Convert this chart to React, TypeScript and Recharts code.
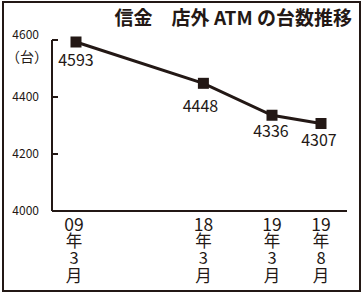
import React from 'react';
import { LineChart, Line, XAxis, YAxis, LabelList } from 'recharts';

const categories = ['09年3月', '18年3月', '19年3月', '19年8月'];
const atmCounts = [4593, 4448, 4336, 4307];
// hand-laid slot spacing of the original (not proportional to time)
const xSlots = [0, 13, 20, 25];
const yTicks = [4000, 4200, 4400, 4600];

const title = '信金　店外 ATM の台数推移';
const unitLabel = '（台）';

const INK = '#231815';
const FONT = '"Noto Sans CJK JP", "Noto Sans", sans-serif';

const data = categories.map((c, i) => ({ label: c, x: xSlots[i], value: atmCounts[i] }));

// small per-label nudges so the numbers sit where the print put them
const labelShift: [number, number][] = [[0, 24], [-3, 29], [-1, 22], [-2, 22]];

const SquareDot = (props: any) => {
  const { cx, cy } = props;
  if (cx == null || cy == null) return null;
  return <rect x={cx - 5.5} y={cy - 5.5} width={11} height={11} fill={INK} />;
};

const YTick = (props: any) => {
  const { x, y, payload } = props;
  const up = payload.value === 4600 ? -5 : 0;
  return (
    <g>
      <line x1={x} x2={x + 6} y1={y} y2={y} stroke={INK} strokeWidth={2} />
      <text x={x - 13} y={y + up} dy={4} textAnchor="end" fontSize={12} fill={INK} fontFamily={FONT}>
        {payload.value}
      </text>
    </g>
  );
};

// 縦書き tick: the year digits sit sideways-free in one horizontal cell, the rest upright
const XTick = (props: any) => {
  const { x, y, payload } = props;
  const idx = xSlots.indexOf(payload.value);
  if (idx < 0) return null;
  const m = categories[idx].match(/^(\d+)(.*)$/);
  const year = m ? m[1] : '';
  const rest = m ? m[2] : categories[idx];
  const cx = x - (idx === 0 ? 2 : 0);
  return (
    <foreignObject x={cx - 20} y={y + 4} width={40} height={80}>
      <div style={{ display: 'flex', justifyContent: 'center', width: 40 }}>
        <div
          style={{
            writingMode: 'vertical-rl',
            textOrientation: 'upright',
            fontSize: 16.5,
            lineHeight: 1,
            letterSpacing: 1,
            color: INK,
            fontFamily: FONT,
          }}
        >
          <span
            style={{
              display: 'inline-block',
              writingMode: 'horizontal-tb',
              fontSize: 17.5,
              lineHeight: '17px',
              letterSpacing: 0,
            }}
          >
            {year}
          </span>
          {rest}
        </div>
      </div>
    </foreignObject>
  );
};

const ValueLabel = (props: any) => {
  const { x, y, value, index } = props;
  const [dx, dy] = labelShift[index] || [0, 24];
  return (
    <text x={x + dx} y={y + dy} textAnchor="middle" fontSize={16} fill={INK} fontFamily={FONT}>
      {value}
    </text>
  );
};

export default function App() {
  return (
    <div style={{ position: 'absolute', left: 0, top: 0, width: 364, height: 295, background: '#fff', fontFamily: FONT }}>
      <div
        style={{
          position: 'absolute', left: 2, top: 1, width: 359, height: 291,
          border: `2px solid ${INK}`, boxSizing: 'border-box',
        }}
      />
      <div
        style={{
          position: 'absolute', right: 12, top: 6, fontSize: 19, lineHeight: '21px',
          fontWeight: 700, color: INK, whiteSpace: 'pre',
        }}
      >
        {title}
      </div>
      <div
        style={{
          position: 'absolute', left: 6, top: 48, fontSize: 14, lineHeight: '16px', color: INK,
        }}
      >
        {unitLabel}
      </div>
      <div style={{ position: 'absolute', left: 0, top: 0 }}>
        <LineChart width={364} height={295} data={data} margin={{ top: 40, right: 17, bottom: 4, left: 0 }}>
          <XAxis
            dataKey="x"
            type="number"
            domain={[0, 25]}
            ticks={xSlots}
            padding={{ left: 24, right: 26 }}
            height={80}
            tick={<XTick />}
            tickLine={false}
            tickSize={0}
            tickMargin={0}
            axisLine={{ stroke: INK, strokeWidth: 2 }}
            interval={0}
          />
          <YAxis
            domain={[4000, 4600]}
            ticks={yTicks}
            width={52}
            tick={<YTick />}
            tickLine={false}
            tickSize={0}
            tickMargin={0}
            axisLine={{ stroke: INK, strokeWidth: 2 }}
            interval={0}
          />
          <Line
            dataKey="value"
            stroke={INK}
            strokeWidth={3}
            dot={<SquareDot />}
            activeDot={false}
            isAnimationActive={false}
          >
            <LabelList dataKey="value" content={<ValueLabel />} />
          </Line>
        </LineChart>
      </div>
    </div>
  );
}
